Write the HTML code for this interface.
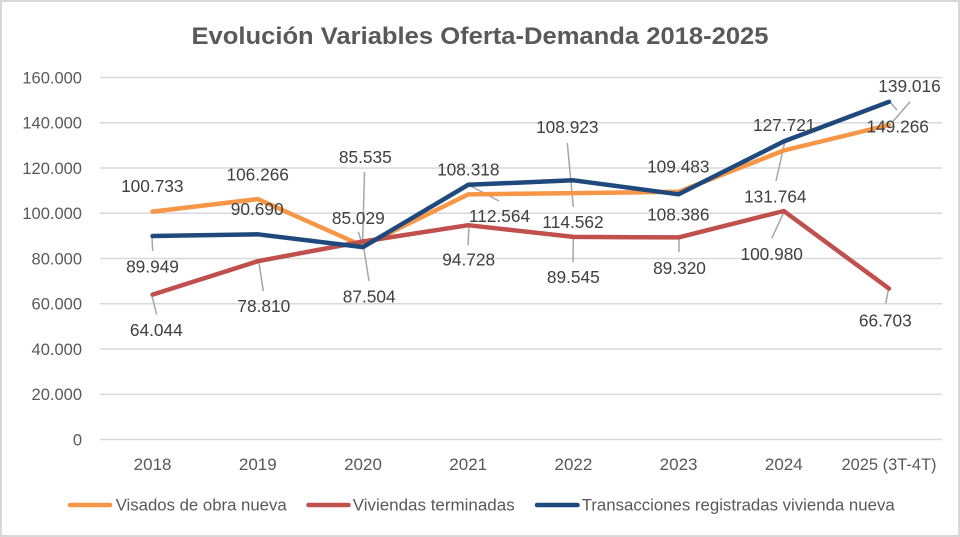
<!DOCTYPE html>
<html><head><meta charset="utf-8"><style>
html,body{margin:0;padding:0;background:#fff;}
svg{display:block;}
text{font-family:"Liberation Sans",Arial,sans-serif;}
</style></head><body>
<svg width="960" height="537" viewBox="0 0 960 537" xmlns="http://www.w3.org/2000/svg">
<rect x="1" y="1" width="958" height="535" fill="#fff" stroke="#d9d9d9" stroke-width="2"/>
<text x="480" y="44" text-anchor="middle" font-size="23.7" font-weight="bold" fill="#595959" textLength="577" lengthAdjust="spacingAndGlyphs">Evolución Variables Oferta-Demanda 2018-2025</text>
<g stroke="#d9d9d9" stroke-width="1.6">
<line x1="100" y1="77.5" x2="942" y2="77.5"/>
<line x1="100" y1="122.75" x2="942" y2="122.75"/>
<line x1="100" y1="168" x2="942" y2="168"/>
<line x1="100" y1="213.25" x2="942" y2="213.25"/>
<line x1="100" y1="258.5" x2="942" y2="258.5"/>
<line x1="100" y1="303.75" x2="942" y2="303.75"/>
<line x1="100" y1="349" x2="942" y2="349"/>
<line x1="100" y1="394.25" x2="942" y2="394.25"/>
<line x1="100" y1="439.5" x2="942" y2="439.5"/>
</g>
<g font-size="16.5" fill="#595959" text-anchor="end">
<text x="82" y="83.3">160.000</text>
<text x="82" y="128.5">140.000</text>
<text x="82" y="173.8">120.000</text>
<text x="82" y="219">100.000</text>
<text x="82" y="264.3">80.000</text>
<text x="82" y="309.5">60.000</text>
<text x="82" y="354.8">40.000</text>
<text x="82" y="400">20.000</text>
<text x="82" y="445.3">0</text>
</g>
<g font-size="17" fill="#595959" text-anchor="middle">
<text x="152.6" y="470">2018</text>
<text x="257.8" y="470">2019</text>
<text x="363" y="470">2020</text>
<text x="468.2" y="470">2021</text>
<text x="573.4" y="470">2022</text>
<text x="678.6" y="470">2023</text>
<text x="783.8" y="470">2024</text>
<text x="889" y="470" textLength="95" lengthAdjust="spacingAndGlyphs">2025 (3T-4T)</text>
</g>
<!-- leader lines -->
<g stroke="#a6a6a6" stroke-width="1.5" fill="none">
<line x1="152" y1="237" x2="152.7" y2="251"/>
<line x1="151.7" y1="295" x2="156.7" y2="314.5"/>
<line x1="258.7" y1="261" x2="263.3" y2="291"/>
<line x1="364.5" y1="172" x2="362.5" y2="246"/>
<line x1="358.3" y1="231.7" x2="363" y2="247"/>
<line x1="363" y1="243" x2="369" y2="281"/>
<line x1="468" y1="184.5" x2="499" y2="201"/>
<line x1="469" y1="226" x2="468" y2="245"/>
<line x1="567.3" y1="143" x2="573.3" y2="207"/>
<line x1="573.3" y1="238" x2="573" y2="262"/>
<line x1="679" y1="238" x2="679" y2="252"/>
<line x1="785" y1="141" x2="776" y2="181"/>
<line x1="784" y1="212" x2="771.7" y2="238.3"/>
<line x1="890" y1="102" x2="897" y2="110"/>
<line x1="892.7" y1="121.7" x2="910" y2="101.7"/>
<line x1="888.3" y1="290" x2="885.7" y2="303.3"/>
</g>
<!-- series -->
<g fill="none" stroke-width="4.5" stroke-linecap="round" stroke-linejoin="round">
<polyline stroke="#F79646" points="152.6,211.6 257.8,199.1 363,246 468.2,194.4 573.4,193.1 678.6,191.8 783.8,150.5 889,125"/>
<polyline stroke="#C0504D" points="152.6,294.6 257.8,261.2 363,241.5 468.2,225.2 573.4,236.9 678.6,237.4 783.8,211 889,288.6"/>
<polyline stroke="#1F497D" points="152.6,236 257.8,234.3 363,247.1 468.2,184.8 573.4,180.3 678.6,194.3 783.8,141.4 889,101.8"/>
</g>
<!-- data labels -->
<g font-size="17.3" fill="#404040" text-anchor="middle">
<text x="152.3" y="192">100.733</text>
<text x="257.7" y="180.5">106.266</text>
<text x="257.2" y="215">90.690</text>
<text x="358.3" y="224">85.029</text>
<text x="152.5" y="272.5">89.949</text>
<text x="263.8" y="312">78.810</text>
<text x="369.2" y="302.5">87.504</text>
<text x="156.3" y="336">64.044</text>
<text x="365.3" y="163">85.535</text>
<text x="468.3" y="175.5">108.318</text>
<text x="499.5" y="222">112.564</text>
<text x="468.7" y="265.5">94.728</text>
<text x="567.3" y="133">108.923</text>
<text x="573" y="228">114.562</text>
<text x="573.3" y="283">89.545</text>
<text x="678.3" y="172.5">109.483</text>
<text x="678.3" y="220.5">108.386</text>
<text x="679.5" y="274">89.320</text>
<text x="784.2" y="131">127.721</text>
<text x="775.3" y="202.5">131.764</text>
<text x="771.7" y="260">100.980</text>
<text x="909.5" y="92">139.016</text>
<text x="897.7" y="132.5">149.266</text>
<text x="885.3" y="326.5">66.703</text>
</g>
<!-- legend -->
<g stroke-width="4.5" stroke-linecap="round">
<line x1="70" y1="505" x2="110" y2="505" stroke="#F79646"/>
<line x1="308.5" y1="505" x2="348.5" y2="505" stroke="#C0504D"/>
<line x1="537" y1="505" x2="577.5" y2="505" stroke="#1F497D"/>
</g>
<g font-size="17" fill="#595959">
<text x="115.7" y="510.7" textLength="171" lengthAdjust="spacingAndGlyphs">Visados de obra nueva</text>
<text x="352.7" y="510.7" textLength="162" lengthAdjust="spacingAndGlyphs">Viviendas terminadas</text>
<text x="581.7" y="510.7" textLength="313" lengthAdjust="spacingAndGlyphs">Transacciones registradas vivienda nueva</text>
</g>
</svg>
</body></html>
